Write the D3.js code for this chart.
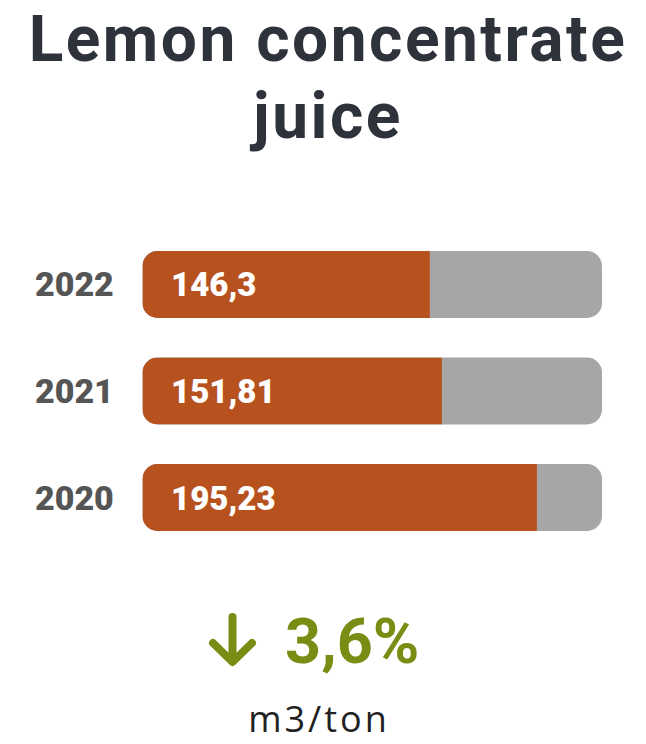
<!DOCTYPE html>
<html>
<head>
<meta charset="utf-8">
<script src="https://cdn.jsdelivr.net/npm/d3@7"></script>
<style>
  html, body { margin: 0; padding: 0; background: #ffffff; }
  svg { display: block; }
</style>
</head>
<body>
<div id="chart"></div>
<script>
// Water use per ton of lemon concentrate juice, by year
const years = ["2022", "2021", "2020"];
const values = [146.3, 151.81, 195.23];
const valueLabels = ["146,3", "151,81", "195,23"];
const scaleDomain = [15, 225];
const titleLines = ["Lemon concentrate", "juice"];
const changeLabel = "3,6%";
const unitLabel = "m3/ton";

const W = 646, H = 744;
const colors = {
  title: "#2e323b",
  year: "#555555",
  bar: "#b7521f",
  track: "#a6a6a6",
  change: "#7b8c14",
  unit: "#222222"
};
const boldFont = "Roboto, 'Open Sans', sans-serif";

const svg = d3.select("#chart").append("svg")
  .attr("width", W).attr("height", H);

// Title, two centred lines
svg.append("g")
  .attr("font-family", boldFont)
  .attr("font-weight", 700)
  .attr("font-size", 64)
  .attr("letter-spacing", 2.5)
  .attr("fill", colors.title)
  .attr("text-anchor", "middle")
  .selectAll("text").data(titleLines).join("text")
  .attr("x", 328)
  .attr("y", (d, i) => [61, 138][i])
  .text(d => d);

// Scales
const x = d3.scaleLinear().domain(scaleDomain).range([142.5, 602]);
const y = d3.scaleBand().domain(years).range([251, 531]).paddingInner(0.371).paddingOuter(0);
const radius = 15;

const rows = svg.append("g").selectAll("g").data(years).join("g");

// Clip each bar to its rounded track
const defs = svg.append("defs");
defs.selectAll("clipPath").data(years).join("clipPath")
  .attr("id", d => "track-" + d)
  .append("rect")
  .attr("x", x(scaleDomain[0]))
  .attr("y", d => y(d))
  .attr("width", x(scaleDomain[1]) - x(scaleDomain[0]))
  .attr("height", y.bandwidth())
  .attr("rx", radius);

rows.append("rect")
  .attr("x", x(scaleDomain[0]))
  .attr("y", d => y(d))
  .attr("width", x(scaleDomain[1]) - x(scaleDomain[0]))
  .attr("height", y.bandwidth())
  .attr("rx", radius)
  .attr("fill", colors.track);

rows.append("rect")
  .attr("clip-path", d => `url(#track-${d})`)
  .attr("x", x(scaleDomain[0]))
  .attr("y", d => y(d))
  .attr("width", (d, i) => x(values[i]) - x(scaleDomain[0]))
  .attr("height", y.bandwidth())
  .attr("fill", colors.bar);

// Year labels
rows.append("text")
  .attr("x", 35)
  .attr("y", d => y(d) + y.bandwidth() / 2 + 12)
  .attr("font-family", boldFont)
  .attr("font-weight", 900)
  .attr("font-size", 34)
  .attr("fill", colors.year)
  .text(d => d);

// Value labels inside bars
rows.append("text")
  .attr("x", 171)
  .attr("y", d => y(d) + y.bandwidth() / 2 + 12)
  .attr("font-family", boldFont)
  .attr("font-weight", 900)
  .attr("font-size", 33)
  .attr("fill", "#ffffff")
  .text((d, i) => valueLabels[i]);

// Change indicator: down arrow + percentage
const arrow = svg.append("g")
  .attr("fill", "none")
  .attr("stroke", colors.change)
  .attr("stroke-width", 8)
  .attr("stroke-linecap", "round")
  .attr("stroke-linejoin", "round");
arrow.append("path").attr("d", d3.line()([[232.5, 617], [232.5, 661]]));
arrow.append("path").attr("d", d3.line()([[213, 643], [232.5, 662], [252, 643]]));

svg.append("text")
  .attr("x", 285)
  .attr("y", 663)
  .attr("font-family", boldFont)
  .attr("font-weight", 700)
  .attr("font-size", 63)
  .attr("fill", colors.change)
  .text(changeLabel);

// Unit
svg.append("text")
  .attr("x", 319)
  .attr("y", 732)
  .attr("text-anchor", "middle")
  .attr("font-family", "'Open Sans', sans-serif")
  .attr("font-weight", 400)
  .attr("font-size", 36)
  .attr("letter-spacing", 3)
  .attr("fill", colors.unit)
  .text(unitLabel);
</script>
</body>
</html>
